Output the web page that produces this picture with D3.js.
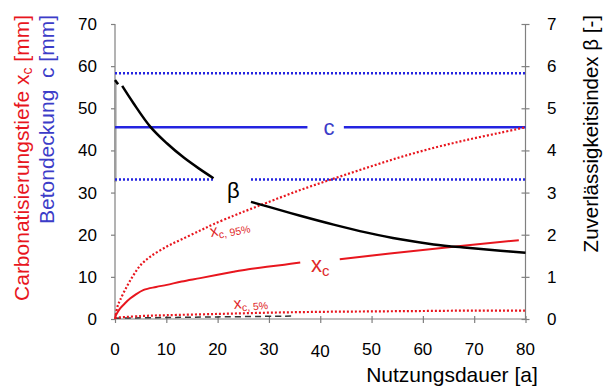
<!DOCTYPE html>
<html>
<head>
<meta charset="utf-8">
<script src="https://cdn.jsdelivr.net/npm/d3@7"></script>
<style>
	body { margin: 0; background: #fff; }
	svg text { font-family: "Liberation Sans", Arial, sans-serif; }
</style>
</head>
<body>
<svg id="chart" width="603" height="387"></svg>
<script>
// Nutzungsdauer [a] ticks and values
const xTicks = [0, 10, 20, 30, 40, 50, 60, 70, 80];
const yLeftTicks = [0, 10, 20, 30, 40, 50, 60, 70];
const yRightTicks = [0, 1, 2, 3, 4, 5, 6, 7];

// Betondeckung c [mm]: mean and the two dotted bounds
const coverMean = 45.5;
const coverBounds = [58.3, 33.1];
const coverBand = [56.5, 32.5];   // grey band on the left axis

// Carbonatisierungstiefe x_c [mm]
const xcYearsA = [0, 1, 2, 3, 4, 5.6, 8, 10.1, 13, 16.6, 20, 23.1, 26, 29.6, 33, 36.1];
const xcValsA = [0.5, 2.5, 3.8, 4.9, 5.8, 6.9, 7.6, 8.1, 8.9, 9.7, 10.5, 11.2, 11.8, 12.4, 12.9, 13.4];
const xcYearsB = [43.8, 60, 78.7];
const xcValsB = [14.2, 16.4, 18.7];

const xc95Years = [0, 0.5, 1, 2.3, 3.6, 5, 6.9, 10.1, 13, 16.6, 19.2, 23.1, 26, 29.6, 36.1, 42.6, 49.1, 55.6, 62.1, 68.6, 75.1, 80];
const xc95Vals = [0, 3, 4.5, 7.7, 10.4, 12.8, 14.8, 17.2, 18.9, 21.0, 22.5, 24.5, 25.9, 27.6, 30.6, 33.3, 35.9, 38.4, 40.6, 42.5, 44.2, 45.5];

const xc5Years = [0, 5, 10, 20, 30, 40, 50, 60, 70, 80];
const xc5Vals = [0.3, 0.7, 0.9, 1.2, 1.5, 1.7, 1.8, 1.9, 2.0, 2.0];

const lowYears = [0, 10, 20, 35];
const lowVals = [0.2, 0.35, 0.5, 0.7];

// Zuverlaessigkeitsindex beta [-]
const betaYears0 = [0, 0.6];
const betaVals0 = [5.67, 5.57];
const betaYearsA = [1.4, 3.6, 6.9, 10.1, 13.4, 16.6, 19.2];
const betaValsA = [5.53, 5.12, 4.56, 4.17, 3.83, 3.55, 3.34];
const betaYearsB = [26.5, 30, 36.1, 42.6, 49.1, 55.6, 62.1, 68.6, 75.1, 80];
const betaValsB = [2.78, 2.66, 2.45, 2.24, 2.05, 1.89, 1.77, 1.69, 1.62, 1.57];

const red = "#e8161e", redText = "#e02828";
const blue = "#2424e0", blueText = "#3c3cc8";

function whenDocumentLoaded(action) {
	if (document.readyState === "loading") {
		document.addEventListener("DOMContentLoaded", action);
	} else {
		action();
	}
}

whenDocumentLoaded(() => {
	const svg = d3.select("#chart");

	const x = d3.scaleLinear().domain([0, 80]).range([115, 525.5]);
	const yL = d3.scaleLinear().domain([0, 70]).range([319, 24]);
	const yR = d3.scaleLinear().domain([0, 7]).range([319, 24]);

	const zip = (xs, ys) => xs.map((t, i) => [t, ys[i]]);
	const smooth = d3.curveCatmullRom.alpha(0.5);
	const lineL = d3.line().x(d => x(d[0])).y(d => yL(d[1])).curve(smooth);
	const lineR = d3.line().x(d => x(d[0])).y(d => yR(d[1])).curve(smooth);

	// grey band along the left axis
	svg.append("rect")
		.attr("x", x(0) - 1)
		.attr("y", yL(coverBand[0]))
		.attr("width", 3)
		.attr("height", yL(coverBand[1]) - yL(coverBand[0]))
		.attr("fill", "#c8c8c8");

	// axes
	const axisColor = "#808080";
	const gx = svg.append("g")
		.attr("transform", `translate(0,${yL(0)})`)
		.call(d3.axisBottom(x).tickValues(xTicks).tickSize(4).tickFormat(""));
	gx.selectAll(".tick line").attr("y1", -3);

	const gl = svg.append("g")
		.attr("transform", `translate(${x(0)},0)`)
		.call(d3.axisLeft(yL).tickValues(yLeftTicks).tickSize(4).tickFormat(""));

	const gr = svg.append("g")
		.attr("transform", `translate(${x(80)},0)`)
		.call(d3.axisRight(yR).tickValues(yRightTicks).tickSize(4).tickFormat(""));
	gr.selectAll(".tick line").attr("x1", -4);

	[gx, gl, gr].forEach(g => {
		g.select(".domain").attr("stroke", axisColor).attr("stroke-width", 1.2);
		g.selectAll(".tick line").attr("stroke", axisColor).attr("stroke-width", 1.2);
	});
	gx.select(".domain").attr("d", `M${x(0)},0H${x(80)}`);
	gl.select(".domain").attr("d", `M0,${yL(70)}V${yL(0)}`);
	gr.select(".domain").attr("d", `M0,${yR(7)}V${yR(0)}`);

	// tick labels
	svg.append("g").selectAll("text")
		.data(xTicks).join("text")
		.attr("x", d => x(d))
		.attr("y", d => d === 40 ? 357 : 355)
		.attr("text-anchor", "middle")
		.attr("font-size", 17)
		.text(d => d);

	svg.append("g").selectAll("text")
		.data(yLeftTicks).join("text")
		.attr("x", 97)
		.attr("y", d => yL(d))
		.attr("dy", "0.35em")
		.attr("text-anchor", "end")
		.attr("font-size", 17)
		.text(d => d);

	svg.append("g").selectAll("text")
		.data(yRightTicks).join("text")
		.attr("x", 547)
		.attr("y", d => yR(d))
		.attr("dy", "0.35em")
		.attr("font-size", 17)
		.text(d => d);

	// axis titles
	svg.append("text")
		.attr("x", 452).attr("y", 382)
		.attr("text-anchor", "middle")
		.attr("font-size", 21)
		.text("Nutzungsdauer [a]");

	const redTitle = svg.append("text")
		.attr("transform", "translate(29,15) rotate(-90)")
		.attr("text-anchor", "end")
		.attr("font-size", 21)
		.attr("fill", red);
	redTitle.append("tspan").text("Carbonatisierungstiefe x");
	redTitle.append("tspan").attr("font-size", 14).attr("dy", 3).text("c");
	redTitle.append("tspan").attr("dy", -3).text(" [mm]");

	svg.append("text")
		.attr("transform", "translate(54,15) rotate(-90)")
		.attr("text-anchor", "end")
		.attr("font-size", 21)
		.attr("fill", blueText)
		.attr("xml:space", "preserve")
		.text("Betondeckung  c [mm]");

	svg.append("text")
		.attr("transform", "translate(598,15) rotate(-90)")
		.attr("text-anchor", "end")
		.attr("font-size", 20.5)
		.text("Zuverlässigkeitsindex β [-]");

	// Betondeckung lines
	svg.append("g").selectAll("line")
		.data(coverBounds).join("line")
		.attr("x1", x(0)).attr("x2", x(80))
		.attr("y1", d => yL(d)).attr("y2", d => yL(d))
		.attr("stroke", blue)
		.attr("stroke-width", 2.5)
		.attr("stroke-dasharray", "2,2");
	// gap in the lower bound for the beta label
	svg.append("rect")
		.attr("x", x(19.3)).attr("y", yL(coverBounds[1]) - 3)
		.attr("width", x(26.3) - x(19.3)).attr("height", 6)
		.attr("fill", "#fff");

	svg.append("path")
		.attr("d", `M${x(0)},${yL(coverMean)}H${x(37.5)}M${x(44.6)},${yL(coverMean)}H${x(80)}`)
		.attr("stroke", blue)
		.attr("stroke-width", 2.5)
		.attr("fill", "none");
	svg.append("text")
		.attr("x", x(41.7)).attr("y", yL(coverMean) + 8)
		.attr("text-anchor", "middle")
		.attr("font-size", 22)
		.attr("fill", blueText)
		.text("c");

	// low dashed line near zero
	svg.append("path")
		.attr("d", lineL(zip(lowYears, lowVals)))
		.attr("stroke", "#333")
		.attr("stroke-width", 1.5)
		.attr("stroke-dasharray", "6,4")
		.attr("fill", "none");

	// carbonation depth lines
	svg.append("path")
		.attr("d", lineL(zip(xc95Years, xc95Vals)))
		.attr("stroke", red)
		.attr("stroke-width", 2.2)
		.attr("stroke-dasharray", "2,2")
		.attr("fill", "none");
	svg.append("path")
		.attr("d", lineL(zip(xc5Years, xc5Vals)))
		.attr("stroke", red)
		.attr("stroke-width", 2.2)
		.attr("stroke-dasharray", "2,2")
		.attr("fill", "none");
	[zip(xcYearsA, xcValsA), zip(xcYearsB, xcValsB)].forEach(seg => {
		svg.append("path")
			.attr("d", lineL(seg))
			.attr("stroke", red)
			.attr("stroke-width", 2)
			.attr("fill", "none");
	});

	// reliability index
	[zip(betaYears0, betaVals0), zip(betaYearsA, betaValsA), zip(betaYearsB, betaValsB)].forEach(seg => {
		svg.append("path")
			.attr("d", lineR(seg))
			.attr("stroke", "#000")
			.attr("stroke-width", 2.5)
			.attr("fill", "none");
	});

	// labels
	svg.append("text")
		.attr("x", 227).attr("y", 198)
		.attr("font-size", 22)
		.text("β");

	const xcLabel = svg.append("text")
		.attr("x", 311).attr("y", 272)
		.attr("font-size", 22)
		.attr("fill", redText);
	xcLabel.append("tspan").text("x");
	xcLabel.append("tspan").attr("font-size", 15).attr("dy", 4).text("c");

	const sub95 = svg.append("text")
		.attr("transform", "translate(211,237) rotate(-11)")
		.attr("font-size", 16)
		.attr("fill", redText);
	sub95.append("tspan").text("x");
	sub95.append("tspan").attr("font-size", 10.5).attr("dy", 3).text("c, 95%");

	const sub5 = svg.append("text")
		.attr("transform", "translate(234,309) rotate(-5)")
		.attr("font-size", 16)
		.attr("fill", redText);
	sub5.append("tspan").text("x");
	sub5.append("tspan").attr("font-size", 10.5).attr("dy", 3).text("c, 5%");
});
</script>
</body>
</html>
